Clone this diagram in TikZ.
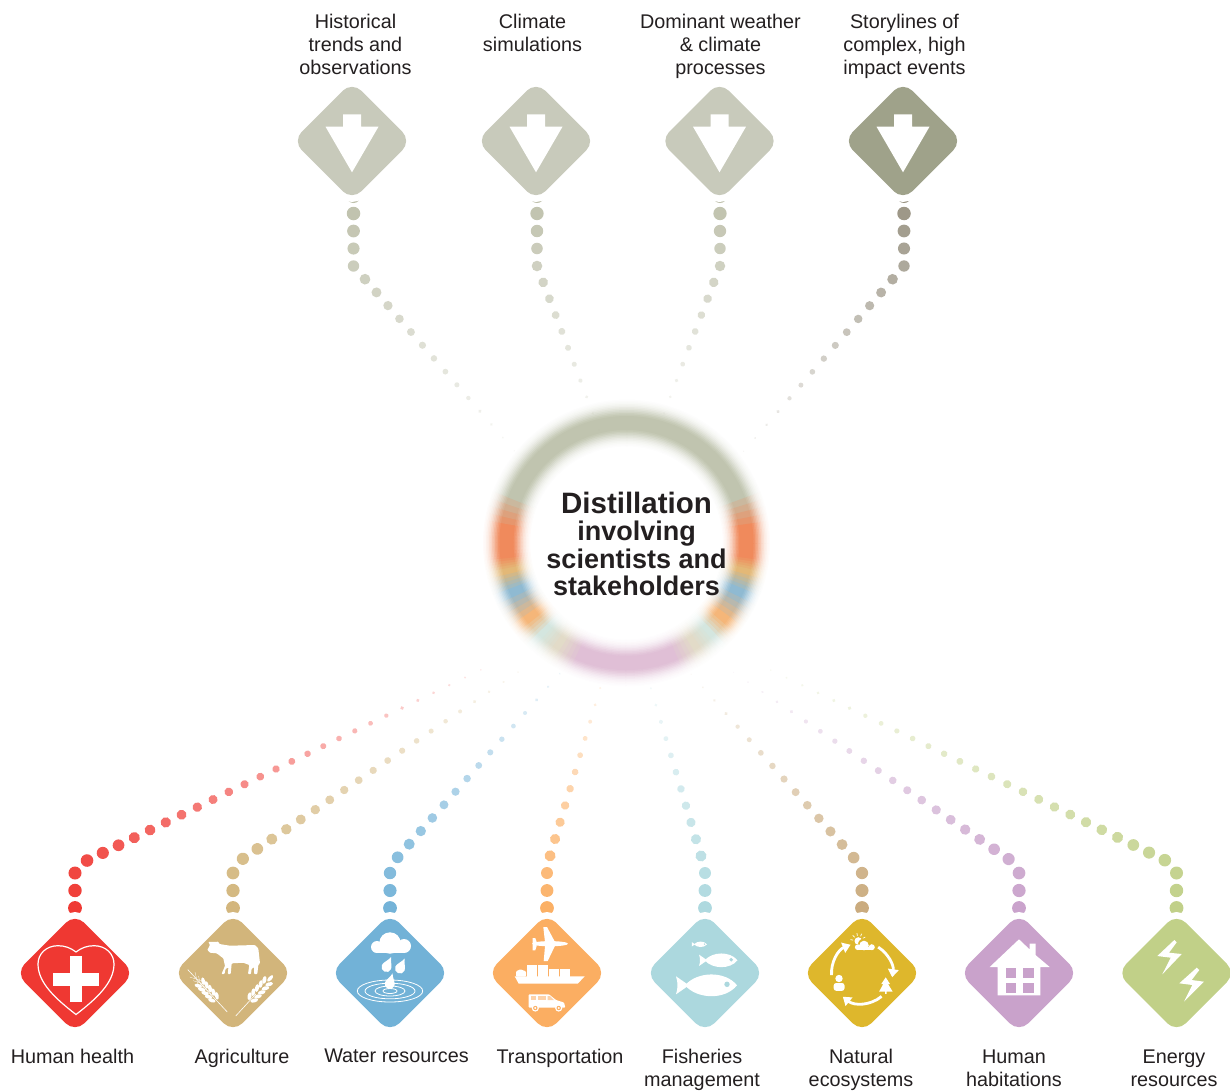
\documentclass[tikz,border=0pt]{standalone}
\usepackage{fontspec}
\setmainfont{Liberation Sans}
\usetikzlibrary{shapes.geometric,decorations.markings,backgrounds,arrows.meta}
\definecolor{txt}{HTML}{231F20}
\definecolor{hgrey}{HTML}{C8CABB}
\definecolor{hdark}{HTML}{9FA28A}
\definecolor{dotgrey}{HTML}{BFC1AC}
\definecolor{dotdark}{HTML}{9A9484}
\definecolor{cred}{HTML}{EF3832}
\definecolor{ctan}{HTML}{D2B57B}
\definecolor{cblue}{HTML}{72B2D7}
\definecolor{corange}{HTML}{FBAE62}
\definecolor{caqua}{HTML}{ACD8DE}
\definecolor{cyellow}{HTML}{DEB72C}
\definecolor{dotbrown}{HTML}{C9AA7C}
\definecolor{cpurple}{HTML}{C9A2CB}
\definecolor{cgreen}{HTML}{C1D088}
\definecolor{rpurple}{HTML}{E0BFD6}
\definecolor{rtan}{HTML}{E2DBC8}
\definecolor{raqua}{HTML}{D4E6DF}
\definecolor{rorange}{HTML}{F5B679}
\definecolor{rblue}{HTML}{8FBAD2}
\definecolor{rsand}{HTML}{E3B877}
\definecolor{rred}{HTML}{F08A5C}
\definecolor{rgrey}{HTML}{C0C4AF}
\tikzset{
	signbox/.style={diamond, inner sep=0pt, outer sep=0pt, minimum size=119pt, rounded corners=13pt, preaction={draw=white, line width=13.5pt}},
	lab/.style={align=center, inner sep=0pt, text=txt, font=\fontsize{19.8}{23}\selectfont},
	headline/.style={align=center, inner sep=0pt, text=txt, font=\fontsize{27}{27.5}\selectfont\bfseries},
	icon/.style={fill=white, draw=none},
	iconline/.style={draw=white, fill=none},
	cyclearrow/.style={iconline, line width=2.8pt, -{Triangle[width=10.5pt,length=8pt]}},
	dotlink/.style 2 args={decorate, decoration={markings, mark=between positions #2 and 1 step 17.5pt with {
		\pgfmathsetmacro\dott{min(1,max(0,(\pgfkeysvalueof{/pgf/decoration/mark info/distance from start}-60)/(\pgfdecoratedpathlength-60)))}
		\pgfmathsetmacro\dotr{7-6.3*\dott}
		\pgfmathsetmacro\dotop{1-.92*\dott}
		\fill[#1, opacity=\dotop] (0,0) circle[radius=\dotr pt];
	}}}
}
\newcommand{\downicon}{\fill[icon] (-9,-26.7) -- (9,-26.7) -- (9,-14.3) -- (26.5,-14.3) -- (0,31.3) -- (-26.5,-14.3) -- (-9,-14.3) -- cycle;}
\newcommand{\dropicon}[2]{\fill[icon, shift={(#1)}, rotate=#2] (0,-11) .. controls (-1,-7) and (-5,-3) .. (-5,0) .. controls (-5,3) and (-2.8,5) .. (0,5) .. controls (2.8,5) and (5,3) .. (5,0) .. controls (5,-3) and (1,-7) .. (0,-11) -- cycle;}
\newcommand{\fishicon}[3]{\begin{scope}[shift={(#1)}, scale=#2]
		\fill[icon] (0,0) .. controls (12,-14) and (40,-15) .. (52,0) .. controls (40,15) and (12,14) .. (0,0) -- cycle;
		\fill[icon] (4,0) -- (-9,-9) .. controls (-7,-3) and (-7,3) .. (-9,9) -- cycle;
		\fill[caqua] (42,-1) circle[radius=#3];
	\end{scope}}
\begin{document}
\begin{tikzpicture}[x=1pt, y=-1pt]
	\useasboundingbox (0,0) rectangle (1230,1090);
	\coordinate (rc) at (626.5,543);
	% climate inputs
	\draw (352,141) node[signbox, fill=hgrey] (h1) {};
	\draw (536,141) node[signbox, fill=hgrey] (h2) {};
	\draw (719.5,141) node[signbox, fill=hgrey] (h3) {};
	\draw (903,141) node[signbox, fill=hdark] (h4) {};
	\foreach \n in {h1,h2,h3,h4} {
		\begin{scope}[shift={(\n)}]
			\downicon
		\end{scope}
	}
	\draw (355.5,44) node[lab] (t1) {Historical\\trends and\\observations};
	\draw (532.5,33) node[lab] (t2) {Climate\\simulations};
	\draw (720.5,46) node[lab] (t3) {Dominant weather\\\& climate\\processes};
	\draw (904.5,46) node[lab] (t4) {Storylines of\\complex, high\\impact events};
	% sectors
	\draw (75,973) node[signbox, fill=cred] (a1) {};
	\draw (233,973) node[signbox, fill=ctan] (a2) {};
	\draw (390,973) node[signbox, fill=cblue] (a3) {};
	\draw (547,973) node[signbox, fill=corange] (a4) {};
	\draw (705,973) node[signbox, fill=caqua] (a5) {};
	\draw (862,973) node[signbox, fill=cyellow] (a6) {};
	\draw (1019,973) node[signbox, fill=cpurple] (a7) {};
	\draw (1176.5,973) node[signbox, fill=cgreen] (a8) {};
	\draw (72.5,1056) node[lab] (l1) {Human health};
	\draw (242,1058) node[lab] (l2) {Agriculture};
	\draw (396.5,1056) node[lab] (l3) {Water resources};
	\draw (560,1058) node[lab] (l4) {Transportation};
	\draw (702,1069.5) node[lab] (l5) {Fisheries\\management};
	\draw (861,1069.5) node[lab] (l6) {Natural\\ecosystems};
	\draw (1014,1068.5) node[lab] (l7) {Human\\habitations};
	\draw (1174,1068.5) node[lab] (l8) {Energy\\resources};
	% heart
	\begin{scope}[shift={(a1)}]
		\begin{scope}[shift={(1,0)}]
			\draw[iconline, line width=1.2pt] (0,-21) .. controls (5,-25) and (11,-27.3) .. (18,-27.3) .. controls (30,-27.3) and (38,-19) .. (38,-9) .. controls (38,10) and (20,26) .. (0,41.5) .. controls (-20,26) and (-38,10) .. (-38,-9) .. controls (-38,-19) and (-30,-27.3) .. (-18,-27.3) .. controls (-11,-27.3) and (-5,-25) .. (0,-21) -- cycle;
			\fill[icon] (-6,-17.3) rectangle (6,29.3);
			\fill[icon] (-23,.3) rectangle (23,12.7);
		\end{scope}
	\end{scope}
	% cow and wheat
	\begin{scope}[shift={(a2)}]
		\fill[icon, rounded corners=.8pt] (-25.7,-23) -- (-23,-28) -- (-24.7,-31) -- (-14.7,-31.3) -- (-13.7,-29) -- (-3,-27.3) -- (22,-28) -- (25.3,-24.7) -- (27,-9.7) -- (25.3,-8) -- (24.3,1) -- (21,1) -- (21,-6) -- (18.5,-4) -- (18,1) -- (15,1) -- (16.3,-8) -- (10.3,-10.3) -- (-1.3,-9.7) -- (-2.3,1) -- (-5.3,1) -- (-4.5,-5.7) -- (-7.5,-4) -- (-8.5,1) -- (-11.5,1) -- (-8,-7) -- (-9.7,-14.7) -- (-16.3,-19.7) -- (-23,-20.3) -- cycle;
		\begin{scope}[shift={(2.7,43)}, rotate=47.5]
			\draw[iconline, line width=.6pt] (0,0) -- (30,0);
			\foreach \s in {24,29.5,35,40.5,46} {
				\fill[icon, shift={(\s,3.2)}, rotate=-32] (0,0) ellipse[x radius=3.9, y radius=2];
				\fill[icon, shift={(\s,-3.2)}, rotate=32] (0,0) ellipse[x radius=3.9, y radius=2];
			}
			\fill[icon] (51,0) ellipse[x radius=4, y radius=1.8];
		\end{scope}
		\begin{scope}[shift={(-5.7,39)}, rotate=133]
			\draw[iconline, line width=.6pt] (0,0) -- (58,0);
			\foreach \s in {19,24,29,34,39} {
				\fill[icon, shift={(\s,3.4)}, rotate=-30] (0,0) ellipse[x radius=3.8, y radius=1.9];
				\fill[icon, shift={(\s,-3.4)}, rotate=30] (0,0) ellipse[x radius=3.8, y radius=1.9];
				\draw[iconline, line width=.3pt] (\s,3.4) -- ++(-30:14);
				\draw[iconline, line width=.3pt] (\s,-3.4) -- ++(30:14);
			}
		\end{scope}
	\end{scope}
	% rain and ripples
	\begin{scope}[shift={(a3)}]
		\fill[icon] (-13,-26) circle[radius=6];
		\fill[icon] (0,-30) circle[radius=10.7];
		\fill[icon] (14,-27) circle[radius=7];
		\fill[icon] (-13,-30) rectangle (14,-20);
		\dropicon{-3.5,-6}{-25}
		\dropicon{10,-4.5}{-25}
		\draw[iconline, line width=.8pt] (0,18) ellipse[x radius=32.7, y radius=11];
		\draw[iconline, line width=.8pt] (0,18) ellipse[x radius=25, y radius=7.8];
		\draw[iconline, line width=.8pt] (0,18) ellipse[x radius=15, y radius=5];
		\draw[iconline, line width=.8pt] (0,18) ellipse[x radius=7, y radius=2.5];
		\dropicon{-.3,11}{-15}
	\end{scope}
	% plane, ship and van
	\begin{scope}[shift={(a4)}]
		\fill[icon] (3,-29.3) ellipse[x radius=18, y radius=2.6];
		\fill[icon] (-3.7,-46) -- (0,-46) -- (8,-31) -- (8,-27.3) -- (.7,-12) -- (-3.3,-12) -- (-2,-27) -- (-2,-31) -- cycle;
		\fill[icon] (-14.3,-35) -- (-11.7,-35) -- (-10.3,-31) -- (-10.3,-27) -- (-11.7,-22.7) -- (-14.3,-22.7) -- cycle;
		\fill[icon] (-32.3,3.3) -- (37.7,3.3) -- (30.7,10.7) -- (-28.3,10.7) -- cycle;
		\fill[icon] (-20.3,-7.7) rectangle (-10.3,3.5);
		\fill[icon] (-9.3,-7.7) rectangle (.7,3.5);
		\fill[icon] (2.3,-4.3) rectangle (12.3,3.5);
		\fill[icon] (13.3,-4.3) rectangle (23,3.5);
		\fill[icon, rounded corners=1pt] (-31,3.5) -- (-31,-1.7) -- (-26.7,-3.7) -- (-21,-1.7) -- (-21,3.5) -- cycle;
		\fill[icon, rounded corners=.8pt] (-18.3,34.5) -- (-18.3,21.3) -- (2,21.3) -- (9,27) -- (17,29.5) -- (18.3,34.5) -- cycle;
		\fill[corange!55!white] (-16,23) rectangle (-11,27);
		\fill[corange!55!white] (-9.5,23) rectangle (-1,27);
		\fill[corange!55!white] (.5,23) -- (3,23) -- (7,27) -- (.5,27) -- cycle;
		\foreach \s in {-11.7,11.7} {
			\fill[icon] (\s,35) circle[radius=3.6];
			\fill[corange] (\s,35) circle[radius=2.2];
			\fill[icon] (\s,35) circle[radius=1.1];
		}
	\end{scope}
	% fish
	\begin{scope}[shift={(a5)}]
		\fishicon{-20,12.3}{1}{2.7}
		\fishicon{-.3,-12.7}{.63}{3}
		\fishicon{-11,-28.7}{.25}{3}
	\end{scope}
	% cycle
	\begin{scope}[shift={(a6)}]
		\draw[cyclearrow] (0,0) ++(176:30.5) arc[start angle=176, end angle=248, radius=30.5];
		\draw[cyclearrow] (0,0) ++(302:30.5) arc[start angle=302, end angle=368, radius=30.5];
		\draw[cyclearrow] (0,0) ++(50:30.5) arc[start angle=50, end angle=129, radius=30.5];
		\fill[icon] (-3.7,-32) circle[radius=3.8];
		\foreach \s in {190,225,260,295,330} {
			\draw[iconline, line width=.7pt] (-3.7,-32) ++(\s:5.3) -- ++(\s:2.7);
		}
		\fill[cyellow] (2,-28.5) circle[radius=6];
		\fill[cyellow] (-4.5,-25) circle[radius=4];
		\fill[icon] (-4.2,-25.8) circle[radius=2.9];
		\fill[icon] (2,-27.5) circle[radius=4.8];
		\fill[icon] (9.8,-25.8) circle[radius=3];
		\fill[icon] (-4.2,-26) rectangle (9.8,-22.8);
		\fill[icon] (-23,5.5) circle[radius=3.7];
		\fill[icon, rounded corners=2.5pt] (-28.3,17.8) -- (-28.3,10) -- (-17.5,10) -- (-17.5,17.8) -- cycle;
		\fill[icon] (23.7,4.3) -- (28,11) -- (26,11) -- (30.7,18.7) -- (24.5,18.7) -- (24.5,20.8) -- (23,20.8) -- (23,18.7) -- (17,18.7) -- (21.3,11) -- (19.3,11) -- cycle;
	\end{scope}
	% house
	\begin{scope}[shift={(a7)}]
		\fill[icon] (0,-33.7) -- (10.7,-23.5) -- (10.7,-29.3) -- (16.7,-29.3) -- (16.7,-17.8) -- (30.7,-6) -- (21.3,-6) -- (21.3,22.3) -- (-21.3,22.3) -- (-21.3,-6) -- (-29.3,-6) -- cycle;
		\fill[cpurple] (-13.3,-5.3) rectangle (-2.7,5);
		\fill[cpurple] (4,-5.3) rectangle (14.7,5);
		\fill[cpurple] (-13.3,9.7) rectangle (-2.7,20);
		\fill[cpurple] (4,9.7) rectangle (14.7,20);
	\end{scope}
	% bolts
	\begin{scope}[shift={(a8)}]
		\fill[icon] (-2.2,-33) -- (.2,-30.7) -- (-7.5,-20.3) -- (5.2,-19) -- (-14.2,1.3) -- (-5.8,-15.3) -- (-19.2,-17) -- cycle;
		\fill[icon] (20.2,-5.3) -- (22.8,-3) -- (15.2,7) -- (27.5,8.7) -- (7.5,28.7) -- (15.8,12) -- (2.8,10.3) -- cycle;
	\end{scope}
	\draw (636.5,544) node[headline] (title) {{\fontsize{29.5}{28}\selectfont Distillation}\\involving\\scientists and\\stakeholders};
	\coordinate (h1e) at (518,455);
	\coordinate (h2e) at (600,432);
	\coordinate (h3e) at (660,424);
	\coordinate (h4e) at (743,452);
	\coordinate (a1e) at (495,663);
	\coordinate (a2e) at (530,664);
	\coordinate (a3e) at (570,662);
	\coordinate (a4e) at (605,672);
	\coordinate (a5e) at (646,672);
	\coordinate (a6e) at (691,674);
	\coordinate (a7e) at (733,672);
	\coordinate (a8e) at (756,663);
	\begin{scope}[on background layer]
		% blurred ring
		\foreach \w/\p in {47/3,44/6,41/11,38/17,35/25,32/35,29/46,26/58,23/70,20/82,17/92,14/100} {
			\foreach \a/\b/\ca/\cb in {90/112/rpurple/rpurple,112/124/rpurple/rtan,124/133/rtan/raqua,133/142/raqua/rorange,142/157/rorange/rblue,157/167/rblue/rsand,167/174/rsand/rred,174/186/rred/rred,186/204/rred/rgrey,204/336/rgrey/rgrey,336/354/rgrey/rred,354/366/rred/rred,366/373/rred/rsand,373/383/rsand/rblue,383/398/rblue/rorange,398/407/rorange/raqua,407/416/raqua/rtan,416/428/rtan/rpurple,428/450/rpurple/rpurple} {
				\foreach \i in {0,...,5} {
					\pgfmathsetmacro\angA{\a+\i*(\b-\a)/6}
					\pgfmathsetmacro\angB{\a+(\i+1)*(\b-\a)/6+.5}
					\pgfmathsetmacro\mixv{\i*20}
					\colorlet{ringtmp}{\cb!\mixv!\ca}
					\draw[draw={ringtmp!\p!white}, line width=\w pt] (rc) ++(\angA:120) arc[start angle=\angA, end angle=\angB, radius=120];
				}
			}
		}
		% links
		\path[dotlink={dotgrey}{2.5pt}] ([xshift=1.5pt]h1.center) -- ++(0,125) -- (h1e);
		\path[dotlink={dotgrey}{2.5pt}] ([xshift=1pt]h2.center) -- ++(0,125) -- (h2e);
		\path[dotlink={dotgrey}{2.5pt}] ([xshift=.5pt]h3.center) -- ++(0,125) -- (h3e);
		\path[dotlink={dotdark}{2.5pt}] ([xshift=1pt]h4.center) -- ++(0,125) -- (h4e);
		\path[dotlink={cred}{12.5pt}] (a1.center) -- ++(0,-100) -- ++(10,-11.5) -- (a1e);
		\path[dotlink={ctan}{12.5pt}] (a2.center) -- ++(0,-100) -- ++(8,-13) -- (a2e);
		\path[dotlink={cblue}{12.5pt}] (a3.center) -- ++(0,-100) -- ++(7,-15) -- (a3e);
		\path[dotlink={corange}{12.5pt}] (a4.center) -- ++(0,-100) -- ++(3,-17) -- (a4e);
		\path[dotlink={caqua}{12.5pt}] (a5.center) -- ++(0,-100) -- ++(-4,-17) -- (a5e);
		\path[dotlink={dotbrown}{12.5pt}] (a6.center) -- ++(0,-100) -- ++(-8,-15) -- (a6e);
		\path[dotlink={cpurple}{12.5pt}] (a7.center) -- ++(0,-100) -- ++(-9,-13) -- (a7e);
		\path[dotlink={cgreen}{12.5pt}] (a8.center) -- ++(0,-100) -- ++(-10,-12) -- (a8e);
	\end{scope}
\end{tikzpicture}
\end{document}
